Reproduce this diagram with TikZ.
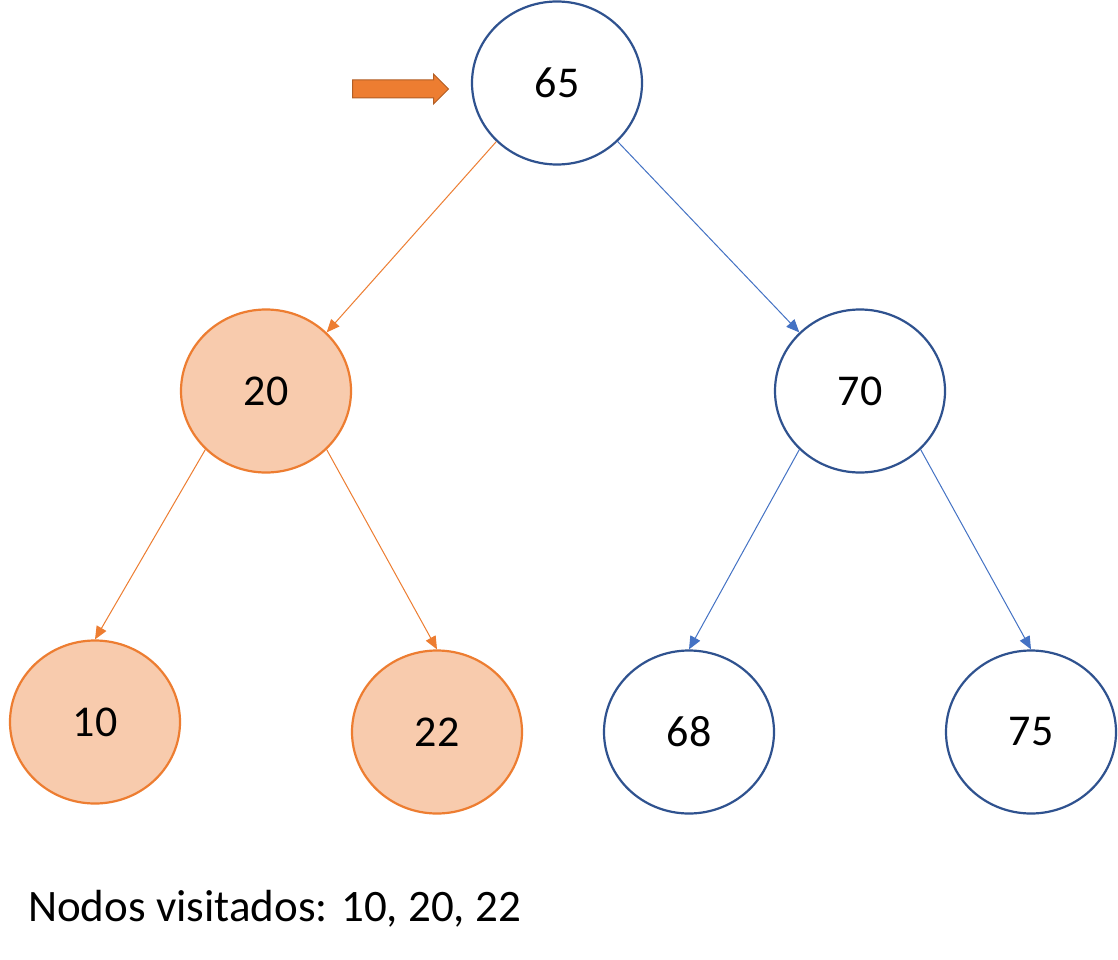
\documentclass[tikz,border=0pt]{standalone}
\usepackage{fontspec}
\setmainfont{Carlito}
\usetikzlibrary{arrows.meta,shapes.arrows,shapes.geometric}
\definecolor{oline}{HTML}{ED7D31}
\definecolor{ofill}{HTML}{F8CBAD}
\definecolor{bline}{HTML}{2F528F}
\definecolor{bedge}{HTML}{4472C4}
\tikzset{
  bnode/.style={ellipse, draw=bline, line width=2.2pt, minimum width=170pt, minimum height=163pt, inner sep=0pt, font=\fontsize{44}{50}\selectfont},
  onode/.style={bnode, draw=oline, fill=ofill},
  oedge/.style={draw=oline, line width=1pt, -{Triangle[length=13pt,width=11pt]}},
  bedgest/.style={draw=bedge, line width=1pt, -{Triangle[length=13pt,width=11pt]}},
}
\begin{document}
\begin{tikzpicture}[x=1pt,y=-1pt]
\useasboundingbox[fill=white] (0,0) rectangle (1118,960);
\node[bnode] (n65) at (557,83) {65};
\node[onode] (n20) at (266,391) {20};
\node[bnode] (n70) at (860,391) {70};
\node[onode] (n10) at (95,722) {10};
\node[onode] (n22) at (437,732) {22};
\node[bnode] (n68) at (689,732) {68};
\node[bnode] (n75) at (1031,732) {75};
\draw[oedge] (n65.224) -- (n20.44);
\draw[bedgest] (n65.316) -- (n70.136);
\draw[oedge] (n20.224) -- (n10.north);
\draw[oedge] (n20.316) -- (n22.north);
\draw[bedgest] (n70.224) -- (n68.north);
\draw[bedgest] (n70.316) -- (n75.north);
\node[single arrow, draw=oline!75!black, fill=oline, line width=1pt, minimum height=96pt, inner xsep=0pt, inner ysep=8.5pt, single arrow head extend=6pt, single arrow tip angle=90] (arr) at (396,89) {};
\node[anchor=base west, inner sep=0pt, font=\fontsize{45}{52}\selectfont] (txt) at (28,921) {Nodos visitados: 10, 20, 22};
\end{tikzpicture}
\end{document}
